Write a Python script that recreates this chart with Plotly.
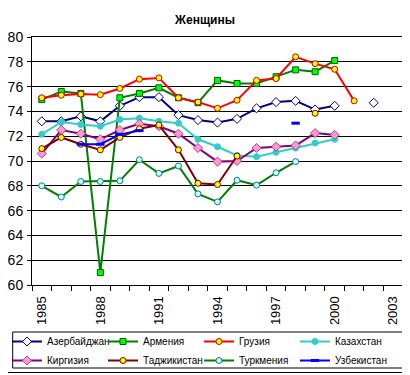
import plotly.graph_objects as go

years = list(range(1985, 2004))
tick_years = [1985, 1988, 1991, 1994, 1997, 2000, 2003]
tick_labels = [str(y) for y in tick_years]

azerbaijan = [73.2, 73.2, 73.6, 73.2, 74.45, 75.15, 75.15, 73.7, 73.3, 73.1, 73.4, 74.25, 74.75, 74.85, 74.15, 74.45, None, 74.7, None]
armenia = [74.95, 75.6, 75.45, 61.0, 75.1, 75.45, 75.9, 75.1, 74.7, 76.5, 76.25, 76.25, 76.8, 77.35, 77.2, 78.1, None, None, None]
georgia = [75.1, 75.3, 75.4, 75.35, 75.85, 76.6, 76.7, 75.1, 74.75, 74.25, 74.9, 76.5, 76.65, 78.4, 77.85, 77.4, 74.85, None, None]
kazakhstan = [72.15, 73.15, 72.95, 72.8, 73.35, 73.45, 73.2, 73.05, 71.75, 71.15, 70.45, 70.35, 70.7, 71.05, 71.45, 71.75, None, None, None]
kyrgyzstan = [70.6, 72.5, 72.2, 71.75, 72.5, 73.0, 72.8, 72.2, 71.05, 69.95, 70.0, 71.05, 71.15, 71.25, 72.25, 72.1, None, None, None]
tajikistan = [71.0, 71.9, 71.35, 70.9, 71.9, 72.6, 72.9, 70.9, 68.2, 68.1, 70.4, None, None, None, 73.85, None, None, None, None]
turkmenistan = [68.0, 67.1, 68.35, 68.35, 68.4, 70.1, 69.0, 69.6, 67.35, 66.7, 68.45, 68.05, 69.05, 69.95, None, None, None, None, None]
uzbekistan = [None, None, 71.35, 71.35, 72.15, 72.45, None, None, None, None, None, None, None, 73.05, None, None, None, None, None]

names = ["Азербайджан", "Армения", "Грузия", "Казахстан",
         "Киргизия", "Таджикистан", "Туркмения", "Узбекистан"]

styles = [
    dict(color="#000080", symbol="diamond", size=7, fill="#FFFFFF", edge="#000080"),
    dict(color="#008000", symbol="square", size=6, fill="#00FF00", edge="#006000"),
    dict(color="#FF0000", symbol="circle", size=6, fill="#FFFF00", edge="#C00000"),
    dict(color="#33CCCC", symbol="circle", size=6, fill="#33CCCC", edge="#33CCCC"),
    dict(color="#800080", symbol="diamond", size=7, fill="#FF99CC", edge="#B040A0"),
    dict(color="#800000", symbol="circle", size=6, fill="#FFFF00", edge="#800000"),
    dict(color="#008000", symbol="circle", size=6, fill="#CCFFFF", edge="#008080"),
    dict(color="#0000FF", symbol="line-ew", size=6, fill="#0000FF", edge="#0000FF"),
]

series = [azerbaijan, armenia, georgia, kazakhstan, kyrgyzstan, tajikistan, turkmenistan, uzbekistan]

fig = go.Figure()
for name, vals, st in zip(names, series, styles):
    lw = 3 if st["symbol"] == "line-ew" else 1
    fig.add_trace(go.Scatter(
        x=years, y=vals, name=name, mode="lines+markers",
        line=dict(color=st["color"], width=2),
        marker=dict(symbol=st["symbol"], size=st["size"], color=st["fill"],
                    line=dict(color=st["edge"], width=lw)),
        connectgaps=False,
    ))

# the page is rendered with an 8px body margin; compensate
OFF = 8
W, H = 410 - OFF, 375 - OFF
L, R, T, B = 32 - OFF, 7, 37 - OFF, 90
pw = W - L - R
ph = H - T - B

def px(xp):
    return (xp - OFF - L) / pw

def py(yp):
    return (H - B - (yp - OFF)) / ph

fig.update_layout(
    width=W, height=H,
    margin=dict(l=L, r=R, t=T, b=B, pad=0, autoexpand=False),
    paper_bgcolor="white", plot_bgcolor="white",
    font=dict(family="Arial, Liberation Sans, sans-serif", color="black"),
    title=dict(text="<b>Женщины</b>", x=(205 - OFF) / W, xref="container", xanchor="center",
               y=1 - (20 - OFF) / H, yref="container", yanchor="middle",
               font=dict(size=12, color="black")),
    xaxis=dict(
        range=[1984.5, 2003.5], tickvals=tick_years, ticktext=tick_labels,
        tickangle=-90, ticks="outside", ticklen=5, tickcolor="rgba(0,0,0,0)",
        tickfont=dict(size=13),
        showgrid=False, zeroline=False,
        showline=True, linecolor="black", linewidth=1, mirror=True,
        minor=dict(tick0=1984.5, dtick=1, ticks="outside", ticklen=5,
                   tickcolor="black", tickwidth=1, showgrid=False),
    ),
    yaxis=dict(
        range=[60, 80], dtick=2, tick0=60,
        ticks="outside", ticklen=4, tickcolor="black",
        tickfont=dict(size=14), ticklabelstandoff=1,
        showgrid=True, gridcolor="black", gridwidth=1, zeroline=False,
        showline=True, linecolor="black", linewidth=1, mirror=True,
    ),
    showlegend=True,
    legend=dict(
        orientation="h", x=px(7), xanchor="left", y=py(327), yanchor="top",
        entrywidth=51, entrywidthmode="pixels",
        font=dict(size=10, color="black"),
        bgcolor="rgba(0,0,0,0)", borderwidth=0, traceorder="normal",
        itemclick=False,
    ),
    shapes=[
        dict(type="rect", xref="paper", yref="paper",
             x0=px(12.7), x1=px(404), y0=py(368), y1=py(332),
             line=dict(color="black", width=1), fillcolor="rgba(0,0,0,0)"),
        dict(type="line", xref="paper", yref="paper",
             x0=px(407.5), x1=px(407.5), y0=py(372.5), y1=py(8),
             line=dict(color="black", width=1)),
        dict(type="line", xref="paper", yref="paper",
             x0=px(8), x1=px(407.5), y0=py(372.5), y1=py(372.5),
             line=dict(color="black", width=1)),
    ],
)

fig.write_html("out.html")
